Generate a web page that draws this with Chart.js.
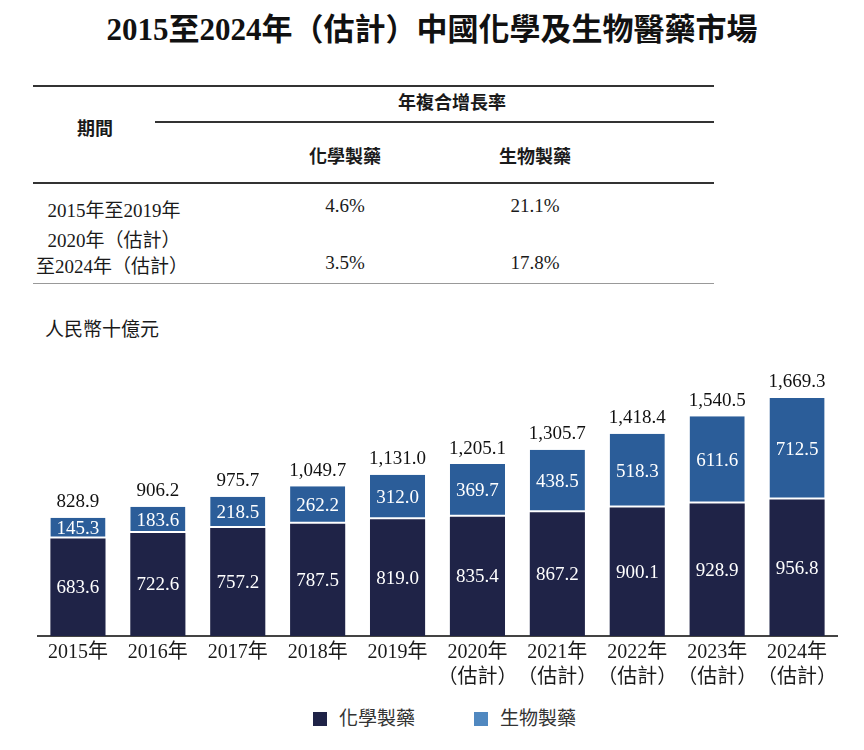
<!DOCTYPE html>
<html>
<head>
<meta charset="utf-8">
<script src="https://cdn.jsdelivr.net/npm/chart.js@4.4.0/dist/chart.umd.min.js"></script>
<style>
  body { margin: 0; width: 864px; height: 750px; background: #fff; position: relative; overflow: hidden;
         font-family: "Liberation Serif", "Noto Sans CJK TC", serif; color: #1a1a1a; }
  .abs { position: absolute; white-space: nowrap; }
  .c { transform: translateX(-50%); text-align: center; }
  .title { top: 4px; left: 432px; font-size: 31px; font-weight: bold; color: #111; }
  .th { font-size: 18px; font-weight: bold; }
  .td { font-size: 19px; }
  .rule { position: absolute; background: #333; }
  #chartBox { position: absolute; left: 0; top: 340px; width: 864px; height: 346px; }
  .legend { top: 703px; font-family: "Noto Sans CJK TC", sans-serif; font-size: 19px; color: #333; }
  .sw { display: inline-block; width: 14px; height: 14px; vertical-align: -1px; margin-right: 12px; }
</style>
</head>
<body>
<div class="abs c title">2015至2024年（估計）中國化學及生物醫藥市場</div>

<div class="rule" style="left:33px;top:85px;width:681px;height:2px;"></div>
<div class="abs c th" style="left:452px;top:88px;">年複合增長率</div>
<div class="rule" style="left:155px;top:121px;width:559px;height:2px;"></div>
<div class="abs c th" style="left:95px;top:114px;">期間</div>
<div class="abs c th" style="left:345px;top:142px;">化學製藥</div>
<div class="abs c th" style="left:535px;top:142px;">生物製藥</div>
<div class="rule" style="left:33px;top:182px;width:681px;height:2px;"></div>

<div class="abs c td" style="left:114px;top:195px;">2015年至2019年</div>
<div class="abs c td" style="left:345px;top:195px;">4.6%</div>
<div class="abs c td" style="left:535px;top:195px;">21.1%</div>
<div class="abs c td" style="left:114px;top:225px;">2020年（估計）</div>
<div class="abs c td" style="left:112px;top:251px;">至2024年（估計）</div>
<div class="abs c td" style="left:345px;top:252px;">3.5%</div>
<div class="abs c td" style="left:535px;top:252px;">17.8%</div>
<div class="rule" style="left:33px;top:283px;width:681px;height:1px;background:#999;"></div>

<div class="abs" style="left:45px;top:314px;font-size:19px;font-family:'Noto Sans CJK TC',sans-serif;">人民幣十億元</div>

<div id="chartBox"><canvas id="chart"></canvas></div>

<div class="abs legend" style="left:313px;"><span class="sw" style="background:#1f2347;"></span>化學製藥</div>
<div class="abs legend" style="left:474px;"><span class="sw" style="background:#5088c0;"></span>生物製藥</div>

<script>
const years = [
    ['2015年'], ['2016年'], ['2017年'], ['2018年'], ['2019年'],
    ['2020年', '（估計）'], ['2021年', '（估計）'], ['2022年', '（估計）'], ['2023年', '（估計）'], ['2024年', '（估計）']
];
const chemicalDrugs = [683.6, 722.6, 757.2, 787.5, 819.0, 835.4, 867.2, 900.1, 928.9, 956.8];
const biologicDrugs = [145.3, 183.6, 218.5, 262.2, 312.0, 369.7, 438.5, 518.3, 611.6, 712.5];
const totals = [828.9, 906.2, 975.7, 1049.7, 1131.0, 1205.1, 1305.7, 1418.4, 1540.5, 1669.3];

const numberFont = '19px "Liberation Serif", serif';

function fmt(v) {
    return v.toLocaleString('en-US', { minimumFractionDigits: 1, maximumFractionDigits: 1 });
}

// writes the values inside each segment and the totals above the bars
const barLabels = {
    id: 'barLabels',
    afterDatasetsDraw(chart) {
        const ctx = chart.ctx;
        ctx.save();
        ctx.font = numberFont;
        ctx.textAlign = 'center';
        ctx.textBaseline = 'middle';
        ctx.fillStyle = '#ffffff';
        chart.data.datasets.forEach((ds, i) => {
            chart.getDatasetMeta(i).data.forEach((bar, j) => {
                const mid = (bar.y + bar.base) / 2;
                ctx.fillText(fmt(ds.data[j]), bar.x, mid + 1);
            });
        });
        ctx.fillStyle = '#111111';
        ctx.textBaseline = 'bottom';
        const top = chart.getDatasetMeta(1).data;
        top.forEach((bar, j) => {
            ctx.fillText(fmt(totals[j]), bar.x, bar.y - 6);
        });
        ctx.restore();
    }
};

new Chart(document.getElementById('chart'), {
    type: 'bar',
    data: {
        labels: years,
        datasets: [{
            label: '化學製藥',
            data: chemicalDrugs,
            backgroundColor: '#1f2347',
            borderWidth: 0
        }, {
            label: '生物製藥',
            data: biologicDrugs,
            backgroundColor: '#2b5d99',
            borderColor: '#ffffff',
            borderWidth: { top: 0, left: 0, right: 0, bottom: 2 },
            borderSkipped: false
        }]
    },
    options: {
        responsive: true,
        maintainAspectRatio: false,
        animation: false,
        layout: { padding: { left: 38, right: 27, top: 25, bottom: 0 } },
        datasets: { bar: { barPercentage: 0.69, categoryPercentage: 1 } },
        plugins: { legend: { display: false }, tooltip: { enabled: false } },
        scales: {
            x: {
                stacked: true,
                grid: { display: false },
                border: { color: '#444', width: 2 },
                ticks: {
                    color: '#1a1a1a',
                    font: { family: '"Liberation Serif", "Noto Sans CJK TC", serif', size: 20, lineHeight: 1.25 },
                    padding: -4,
                    maxRotation: 0,
                    autoSkip: false
                }
            },
            y: {
                stacked: true,
                display: false,
                min: 0,
                max: 1900
            }
        }
    },
    plugins: [barLabels]
});
</script>
</body>
</html>
